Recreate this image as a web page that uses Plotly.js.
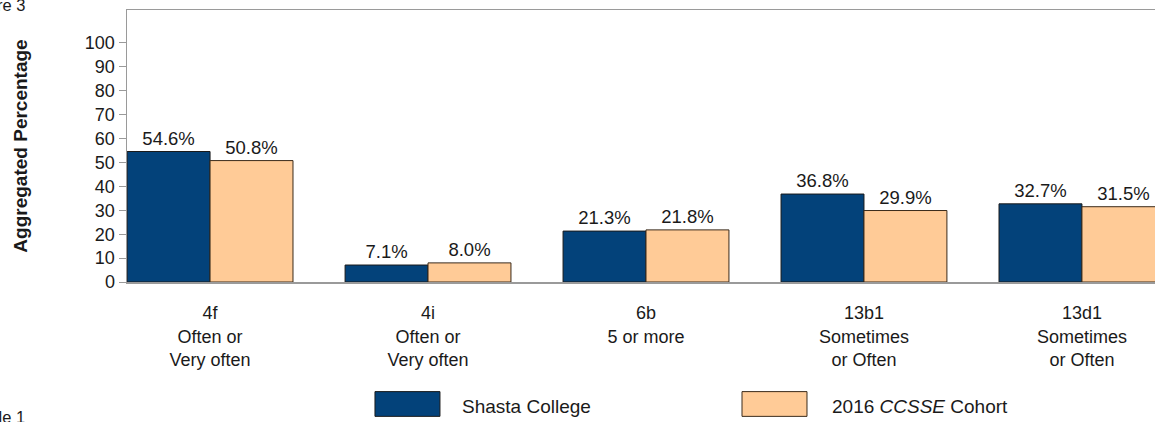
<!DOCTYPE html>
<html>
<head>
<meta charset="utf-8">
<script src="https://cdn.plot.ly/plotly-3.0.1.min.js"></script>
<style>
html, body { margin: 0; padding: 0; overflow: hidden; background: #fff; }
#chart { width: 1200px; height: 422px; }
</style>
</head>
<body>
<div id="chart"></div>
<script>
const categories = ["4f<br>Often or<br>Very often", "4i<br>Often or<br>Very often", "6b<br>5 or more", "13b1<br>Sometimes<br>or Often", "13d1<br>Sometimes<br>or Often"];
const collegeValues = [54.6, 7.1, 21.3, 36.8, 32.7];
const cohortValues = [50.8, 8.0, 21.8, 29.9, 31.5];
const seriesNames = ["Shasta College", "2016 <i>CCSSE</i> Cohort"];
const yTickValues = [0, 10, 20, 30, 40, 50, 60, 70, 80, 90, 100];

const FONT = "Liberation Sans, Arial, sans-serif";
const NAVY = "#03427A";
const PEACH = "#FFCB97";
const INK = "#1a1a1a";

const traces = [
  {
    type: "bar", name: seriesNames[0], x: categories, y: collegeValues,
    marker: { color: NAVY, line: { color: INK, width: 1 } },
    texttemplate: "%{y:.1f}%", textposition: "outside", cliponaxis: false, constraintext: "none",
    textfont: { family: FONT, size: 18.5, color: INK },
    hoverinfo: "skip"
  },
  {
    type: "bar", name: seriesNames[1], x: categories, y: cohortValues,
    marker: { color: PEACH, line: { color: "#3a2a1a", width: 1 } },
    texttemplate: "%{y:.1f}%", textposition: "outside", cliponaxis: false, constraintext: "none",
    textfont: { family: FONT, size: 18.5, color: INK },
    hoverinfo: "skip"
  }
];

const layout = {
  width: 1200, height: 422,
  margin: { l: 127, r: 35, t: 10, b: 140, pad: 0 },
  paper_bgcolor: "#fff", plot_bgcolor: "#fff",
  font: { family: FONT, size: 18, color: INK },
  showlegend: false,
  barmode: "group", bargap: 0.239, bargroupgap: 0,
  xaxis: {
    type: "category", range: [-0.381, 4.381], showgrid: false,
    showline: true, linecolor: "#9a9a9a", linewidth: 1.5, mirror: true,
    ticks: "", tickfont: { family: FONT, size: 18, color: INK },
    ticklabelstandoff: 14, fixedrange: true
  },
  yaxis: {
    range: [0, 113.8], tickvals: yTickValues, ticktext: yTickValues.map(String),
    showgrid: false, zeroline: false,
    showline: true, linecolor: "#9a9a9a", linewidth: 1.5,
    ticks: "outside", ticklen: 7, tickcolor: "#9a9a9a", tickwidth: 1,
    tickfont: { family: FONT, size: 18, color: INK },
    title: { text: "<b>Aggregated Percentage</b>", font: { family: FONT, size: 19, color: INK }, standoff: 52 },
    fixedrange: true
  },
  shapes: [
    { type: "rect", xref: "paper", yref: "paper", x0: 0.2389, x1: 0.3015, y0: -0.494, y1: -0.403,
      fillcolor: NAVY, line: { color: INK, width: 1 } },
    { type: "rect", xref: "paper", yref: "paper", x0: 0.5925, x1: 0.6551, y0: -0.494, y1: -0.403,
      fillcolor: PEACH, line: { color: "#3a2a1a", width: 1 } }
  ],
  annotations: [
    { xref: "paper", yref: "paper", x: 0.3208, y: -0.458, xanchor: "left", yanchor: "middle",
      text: seriesNames[0], showarrow: false, font: { family: FONT, size: 19, color: INK } },
    { xref: "paper", yref: "paper", x: 0.6773, y: -0.458, xanchor: "left", yanchor: "middle",
      text: seriesNames[1], showarrow: false, font: { family: FONT, size: 19, color: INK } },
    { xref: "paper", yref: "paper", x: -0.0954, y: 1.019, xanchor: "right", yanchor: "middle",
      text: "Figure 3", showarrow: false, font: { family: FONT, size: 16.5, color: INK } },
    { xref: "paper", yref: "paper", x: -0.0963, y: -0.497, xanchor: "right", yanchor: "middle",
      text: "Table 1", showarrow: false, font: { family: FONT, size: 16.5, color: INK } }
  ]
};

Plotly.newPlot("chart", traces, layout, { staticPlot: true, displayModeBar: false });
</script>
</body>
</html>
